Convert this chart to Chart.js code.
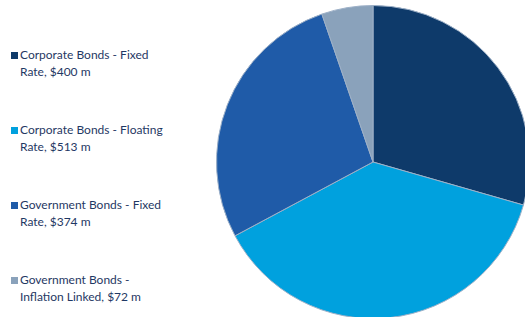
<!DOCTYPE html>
<html>
<head>
<meta charset="utf-8">
<script src="https://cdn.jsdelivr.net/npm/chart.js@4/dist/chart.umd.min.js"></script>
<style>
  html, body { margin: 0; padding: 0; background: #fff; overflow: hidden; }
  body { width: 525px; height: 317px; position: relative; }
  #pieBox { position: absolute; left: 216px; top: 5px; width: 314px; height: 314px; }
  #legend { position: absolute; left: 0; top: 0; }
  .item { position: absolute; left: 20px; width: 150px; font-family: Lato, sans-serif; font-size: 12px;
          line-height: 16.5px; color: #1f3864; }
  .box { position: absolute; left: -9px; top: 5px; width: 7px; height: 7px; }
</style>
</head>
<body>
<div id="legend"></div>
<div id="pieBox"><canvas id="myChart"></canvas></div>
<script>
// データ
var categories = ['Corporate Bonds - Fixed Rate', 'Corporate Bonds - Floating Rate',
                  'Government Bonds - Fixed Rate', 'Government Bonds - Inflation Linked'];
var amounts = [400, 513, 374, 72]; // $ m
var colors = ['#0e3a6a', '#00a1de', '#1f5ba8', '#8aa2bb'];

var labels = categories.map(function (c, i) { return c + ', $' + amounts[i] + ' m'; });

// 凡例 (HTML)
var legendTops = [47, 122, 197, 272];
var legend = document.getElementById('legend');
labels.forEach(function (t, i) {
    var d = document.createElement('div');
    d.className = 'item';
    d.style.top = legendTops[i] + 'px';
    d.textContent = t;
    var b = document.createElement('span');
    b.className = 'box';
    b.style.background = colors[i];
    d.appendChild(b);
    legend.appendChild(d);
});

// パイチャート
var ctx = document.getElementById('myChart');
new Chart(ctx, {
    type: 'pie',
    data: {
        labels: labels,
        datasets: [{
            data: amounts,
            backgroundColor: colors,
            borderColor: '#9db0c7',
            borderWidth: 1,
        }],
    },
    options: {
        responsive: true,
        maintainAspectRatio: false,
        animation: false,
        layout: { padding: 0 },
        plugins: {
            legend: { display: false },
            tooltip: { enabled: false },
        },
    },
});
</script>
</body>
</html>
